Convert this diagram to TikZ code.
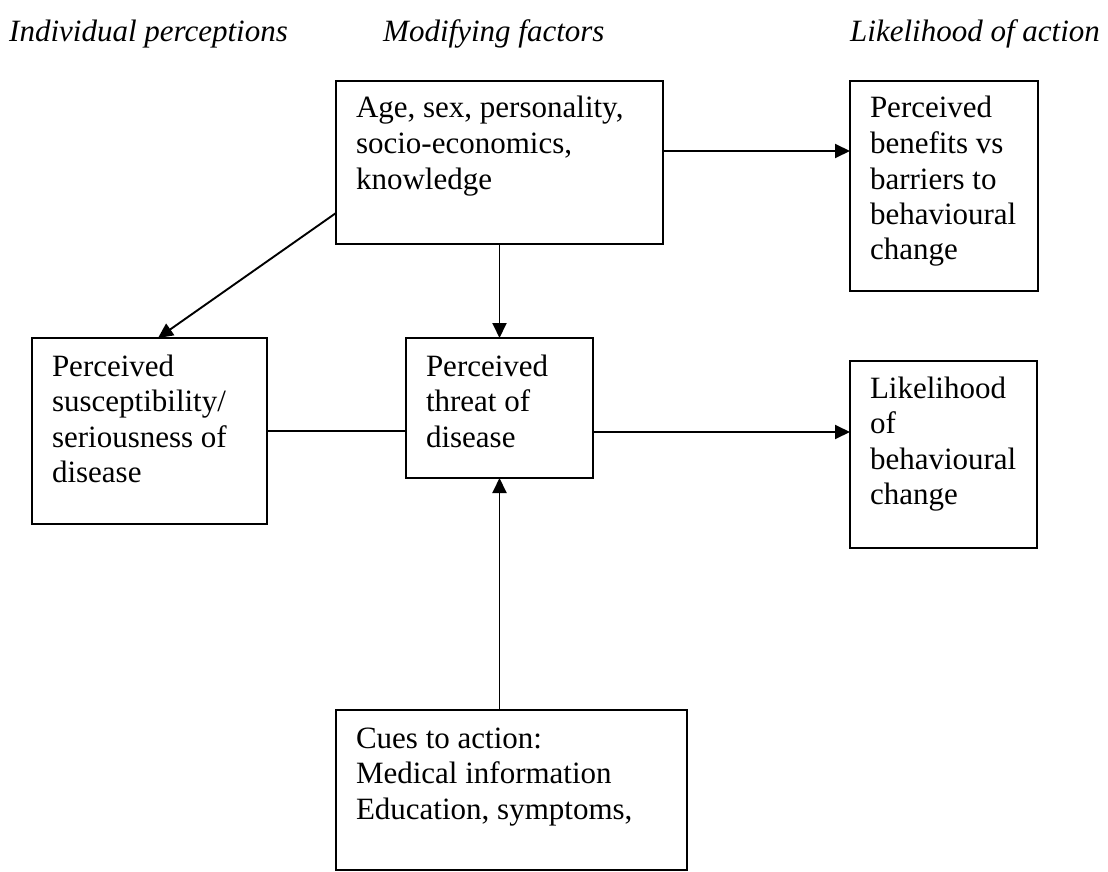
\documentclass[tikz,border=0pt]{standalone}
\usepackage{fontspec}
\setmainfont{Liberation Serif}
\usetikzlibrary{arrows.meta}
\begin{document}
\begin{tikzpicture}[x=1pt,y=-1pt,
  boxnode/.style={draw, line width=2pt, inner sep=0pt, outer sep=0pt},
  txt/.style={anchor=base west, inner sep=0pt, outer sep=0pt},
  hdr/.style={anchor=base west, inner sep=0pt, font=\fontsize{31}{36}\selectfont\itshape},
  arr/.style={line width=1.9pt, -{Triangle[length=15pt,width=14pt]}},
  plain/.style={line width=1.9pt}]
\useasboundingbox (0,0) rectangle (1108,872);
\newcommand{\bt}[2]{\parbox[t]{#1pt}{\fontsize{31}{35.5}\selectfont\raggedright #2}}
% headers
\node[hdr] (h1) at (9,42) {Individual perceptions};
\node[hdr] (h2) at (383,42) {Modifying factors};
\node[hdr] (h3) at (850,42) {Likelihood of action};
% boxes
\node[boxnode, minimum width=327pt, minimum height=163pt] (top) at (499.5,162.5) {};
\node[boxnode, minimum width=188pt, minimum height=210pt] (tr) at (944,186) {};
\node[boxnode, minimum width=235pt, minimum height=186pt] (left) at (149.5,431) {};
\node[boxnode, minimum width=187pt, minimum height=140pt] (threat) at (499.5,408) {};
\node[boxnode, minimum width=187pt, minimum height=187pt] (likely) at (943.5,454.5) {};
\node[boxnode, minimum width=351pt, minimum height=160pt] (cues) at (511.5,790) {};
% texts
\node[txt] (toptxt) at (356,118) {\bt{300}{Age, sex, personality,\\socio-economics,\\knowledge}};
\node[txt] (trtxt) at (870,118) {\bt{170}{Perceived\\benefits vs\\barriers to\\behavioural\\change}};
\node[txt] (lefttxt) at (52,376) {\bt{210}{Perceived\\susceptibility/\\seriousness of\\disease}};
\node[txt] (threattxt) at (426,376) {\bt{165}{Perceived\\threat of\\disease}};
\node[txt] (likelytxt) at (870,398) {\bt{165}{Likelihood\\of\\behavioural\\change}};
\node[txt] (cuestxt) at (356,748) {\bt{320}{Cues to action:\\Medical information\\Education, symptoms,}};
% connectors
\coordinate (a1) at ([yshift=11.5pt]top.east);
\draw[arr] (a1) -- (a1 -| tr.west);
\draw[arr] (top.south) -- (threat.north);
\draw[arr] ([yshift=-50.5pt]top.west) -- ([xshift=8.5pt]left.north);
\draw[plain] (left.east) -- (left.east -| threat.west);
\coordinate (a2) at ([yshift=-24pt]threat.east);
\draw[arr] (a2) -- (a2 -| likely.west);
\draw[arr] (threat.south |- cues.north) -- (threat.south);
\end{tikzpicture}
\end{document}
